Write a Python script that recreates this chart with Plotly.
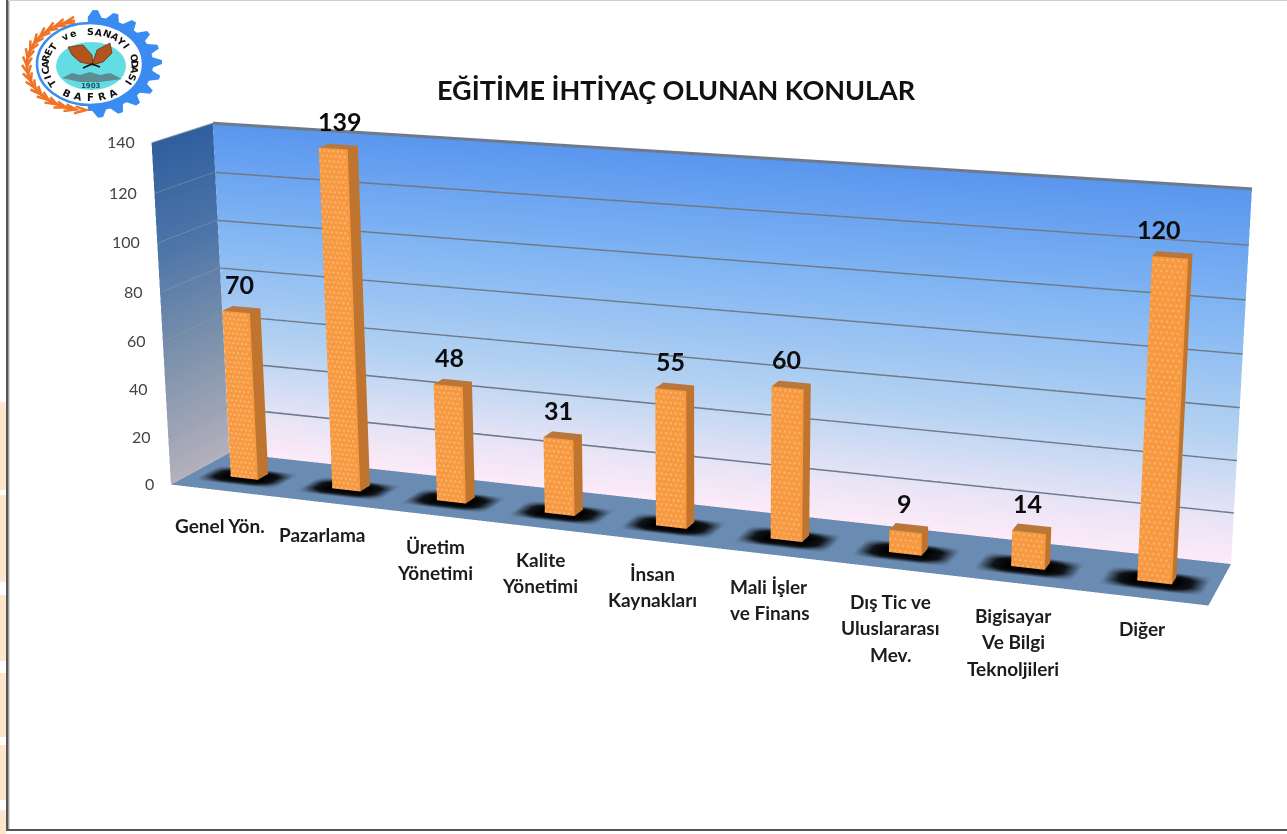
import math
import numpy as np
import plotly.graph_objects as go

W, H = 1287, 834
# The reference has a long-lens perspective (Plotly's fov is fixed), so the canvas is taller than the window.
FIG_H = 2254
TOP = -710

# ---------- data
categories = ["Genel Yön.", "Pazarlama", "Üretim<br>Yönetimi", "Kalite<br>Yönetimi", "İnsan<br>Kaynakları",
              "Mali İşler<br>ve Finans", "Dış Tic ve<br>Uluslararası<br>Mev.",
              "Bigisayar<br>Ve Bilgi<br>Teknoljileri", "Diğer"]
values = [70, 139, 48, 31, 55, 60, 9, 14, 120]
z_ticks = [0, 20, 40, 60, 80, 100, 120, 140]
title_text = "EĞİTİME İHTİYAÇ OLUNAN KONULAR"

# ---------- label pixel positions (layout)
cat_x = [220, 323, 435, 540, 652, 769, 890, 1013, 1142]
cat_y = [525, 534, 546, 559, 573, 586, 601, 615, 628]
value_dx = [-2, 2, -3, -4, -4, -5, -4, -4, -13]
LINE_H = 26.5

BAR_OFF = 0.52
BAR_HALF = 0.135
BY0, BY1 = 0.36, 0.54
FLAT = dict(ambient=1, diffuse=0, specular=0, fresnel=0, roughness=1)
FLOOR = "#6a8bb2"

def X(px): return px / W
def Y(py): return 1 - (py - TOP) / FIG_H

fig = go.Figure()

# back wall
fig.add_trace(go.Mesh3d(x=[0, 9, 9, 0], y=[1, 1, 1, 1], z=[0, 0, 140, 140], i=[0, 0], j=[1, 2], k=[2, 3],
                        intensity=[0, 0, 140, 140], cmin=0, cmax=140, showscale=False,
                        colorscale=[[0, "#fdeaf8"], [0.12, "#e8e4f6"], [0.35, "#b4d2f2"], [0.7, "#7fb4f3"], [1, "#5a96ee"]],
                        lighting=FLAT, hoverinfo="skip"))
# left wall
fig.add_trace(go.Mesh3d(x=[0, 0, 0, 0], y=[0, 1, 1, 0], z=[0, 0, 140, 140], i=[0, 0], j=[1, 2], k=[2, 3],
                        intensity=[0, 0, 140, 140], cmin=0, cmax=140, showscale=False,
                        colorscale=[[0, "#b4b0bc"], [0.35, "#7f93ac"], [0.7, "#4c74a8"], [1, "#2f5f9e"]],
                        lighting=FLAT, hoverinfo="skip"))
# floor
fig.add_trace(go.Mesh3d(x=[0, 9, 9, 0], y=[0, 0, 1, 1], z=[0, 0, 0, 0], i=[0, 0], j=[1, 2], k=[2, 3],
                        color=FLOOR, lighting=FLAT, hoverinfo="skip"))

# grid lines
for t in z_ticks[1:]:
    fig.add_trace(go.Scatter3d(x=[0, 9], y=[1, 1], z=[t, t], mode="lines",
                               line=dict(color="#6f7a88", width=6), hoverinfo="skip"))
    fig.add_trace(go.Scatter3d(x=[0, 0], y=[0, 1], z=[t, t], mode="lines",
                               line=dict(color="#8f9aa8", width=2), hoverinfo="skip"))

# soft shadows under the bars
nx, ny = 25, 13
for idx in range(len(values)):
    cx = idx + BAR_OFF
    gx = np.linspace(cx - 0.40, cx + 0.40, nx)
    gy = np.linspace(0.17, 0.63, ny)
    xx, yy = np.meshgrid(gx, gy)
    dx = np.clip((np.abs(xx - cx) - 0.16) / 0.24, 0, 1)
    dy = np.clip((np.abs(yy - 0.40) - 0.08) / 0.15, 0, 1)
    inten = (1 - dx) * (1 - dy)
    ii, jj, kk = [], [], []
    for a in range(ny - 1):
        for b in range(nx - 1):
            p = a * nx + b
            ii += [p, p]; jj += [p + 1, p + nx + 1]; kk += [p + nx + 1, p + nx]
    fig.add_trace(go.Mesh3d(x=xx.ravel(), y=yy.ravel(), z=np.full(xx.size, 0.25), i=ii, j=jj, k=kk,
                            intensity=inten.ravel(), cmin=0, cmax=1, showscale=False,
                            colorscale=[[0, FLOOR], [0.5, "#101418"], [1, "#000000"]],
                            lighting=FLAT, hoverinfo="skip"))

# bars
for idx, v in enumerate(values):
    x0, x1 = idx + BAR_OFF - BAR_HALF, idx + BAR_OFF + BAR_HALF
    vx = [x0, x1, x1, x0, x0, x1, x1, x0]
    vy = [BY0, BY0, BY1, BY1, BY0, BY0, BY1, BY1]
    vz = [0, 0, 0, 0, v, v, v, v]
    # front, right side, top
    fig.add_trace(go.Mesh3d(x=vx, y=vy, z=vz,
                            i=[0, 0, 1, 1, 4, 4], j=[1, 5, 2, 6, 5, 6], k=[5, 4, 6, 5, 6, 7],
                            facecolor=["#f6993f"] * 2 + ["#bf7430"] * 2 + ["#b9783a"] * 2,
                            lighting=FLAT, hoverinfo="skip"))
    # dotted texture of the front face
    dxs, dzs = [], []
    nz = max(int(v / 2.0), 1)
    n = 6
    for r in range(nz):
        for c in range(n):
            xo = x0 + 0.012 + (c + (0.5 if r % 2 else 0)) * (2 * BAR_HALF - 0.02) / n
            if xo < x1:
                dxs.append(xo); dzs.append((r + 0.5) * v / nz)
    fig.add_trace(go.Scatter3d(x=dxs, y=[BY0 - 0.004] * len(dxs), z=dzs, mode="markers",
                               marker=dict(size=1.5, color="#f9b070", line=dict(width=0)), hoverinfo="skip"))

# ---------- scene annotations (read through the axes)
scene_ann = []
for t in z_ticks:
    scene_ann.append(dict(x=0, y=0, z=t, text=str(t), showarrow=False, xanchor="right", yanchor="middle",
                          xshift=-15, yshift=1, font=dict(family="Lato", size=16, color="#444444")))
for idx, v in enumerate(values):
    scene_ann.append(dict(x=idx + BAR_OFF, y=(BY0 + BY1) / 2, z=v, text="<b>%d</b>" % v, showarrow=False,
                          xanchor="center", yanchor="bottom", yshift=8.5, xshift=value_dx[idx],
                          font=dict(family="Lato", size=25, color="#0c0c0c")))

# ---------- paper annotations
ann = []
def text(s, px, py, size=12, color="#111111", bold=False, angle=0, family="Lato"):
    ann.append(dict(x=X(px), y=Y(py), xref="paper", yref="paper", text=("<b>%s</b>" % s) if bold else s,
                    showarrow=False, xanchor="center", yanchor="middle", textangle=angle,
                    font=dict(family=family, size=size, color=color)))

text(title_text, 676, 89, size=27, bold=True)
for name, cx, cy in zip(categories, cat_x, cat_y):
    for ln, part in enumerate(name.split("<br>")):
        text(part, cx, cy + ln * LINE_H, size=19, bold=True, color="#1c1c1c")

# ---------- page decoration and logo as shapes
shapes = []
def rect(x0, y0, x1, y1, fill, line=None, width=0):
    shapes.append(dict(type="rect", xref="paper", yref="paper", x0=X(x0), x1=X(x1), y0=Y(y1), y1=Y(y0),
                       fillcolor=fill, line=dict(color=line or fill, width=width), layer="above"))
def ellipse(cx, cy, rx, ry, fill, line=None, width=0):
    shapes.append(dict(type="circle", xref="paper", yref="paper", x0=X(cx - rx), x1=X(cx + rx), y0=Y(cy + ry),
                       y1=Y(cy - ry), fillcolor=fill, line=dict(color=line or fill, width=width), layer="above"))
def poly(pts, fill=None, line=None, width=0, close=True):
    d = "M " + " L ".join("%.5f,%.5f" % (X(a), Y(b)) for a, b in pts) + (" Z" if close else "")
    shapes.append(dict(type="path", xref="paper", yref="paper", path=d, fillcolor=fill or "rgba(0,0,0,0)",
                       line=dict(color=line or "rgba(0,0,0,0)", width=width), layer="above"))

for y0, y1 in [(402, 490), (495, 582), (595, 661), (673, 737), (745, 800), (810, 834)]:
    rect(0, y0, 6, y1, "#fde6cc")
rect(8.5, 0, 10, 829, "#d8d8d8")
rect(6, 0, 8.5, 831, "#555555")
rect(6, 829, W, 831, "#555555")
rect(8, 0, W, 1, "#cfcfcf")

# logo
LX, LY = 90, 64
gear = []
nteeth = 11
a0, a1 = -math.radians(92), math.radians(92)
steps = nteeth * 4
for k in range(steps + 1):
    t = a0 + (a1 - a0) * k / steps
    tip = k % 4 in (1, 2)
    rx, ry = (72, 54) if tip else (63, 47)
    gear.append((LX + rx * math.cos(t), LY + ry * math.sin(t)))
poly(gear, fill="#3a8cf2")
# wheat: a band with chevron grains
wheat_band = []
for k in range(33):
    t = math.radians(100 + k * 160 / 32)
    wheat_band.append((85 + 58 * math.cos(t), 65 - 45 * math.sin(t)))
poly(wheat_band, line="#ef7426", width=3, close=False)
for k in range(17):
    t = math.radians(100 + k * 160 / 16)
    nt = math.radians(100 + (k + 1.1) * 160 / 16)
    px, py = 85 + 54 * math.cos(t), 65 - 42 * math.sin(t)
    qx, qy = 85 + 63 * math.cos(t), 65 - 49 * math.sin(t)
    mx, my = 85 + 58 * math.cos(nt), 65 - 45 * math.sin(nt)
    poly([(px, py), (mx, my), (qx, qy)], line="#ef7426", width=2.5, close=False)
ellipse(LX, LY, 53, 41, "#ffffff", "#3a8cf2", 2.5)
ellipse(91, 66, 35, 24, "#63dce4")
poly([(62, 78), (72, 73), (80, 75), (90, 72), (100, 75), (110, 73), (122, 79), (100, 82), (80, 82)], fill="#5d8c92")
poly([(68, 47), (83, 45), (92, 55), (93, 65), (80, 62), (72, 55)], fill="#b4531c", line="#5a2a10", width=0.7)
poly([(92, 65), (97, 50), (110, 43), (112, 53), (103, 62)], fill="#b4531c", line="#5a2a10", width=0.7)
poly([(83, 68), (92, 64), (100, 67)], line="#1c1410", width=1.8, close=False)
text("1903", 91, 86, size=7, bold=True, color="#23505a", family="DejaVu Sans")
ring = "TICARET ve SANAYI ODASI"
for n, ch in enumerate(ring):
    phi = math.radians(-122 + 244 * n / (len(ring) - 1))
    text(ch, LX + 45 * math.sin(phi), LY + 1 - 33.5 * math.cos(phi), size=9.5, bold=True, color="#111111",
         angle=math.degrees(phi), family="DejaVu Sans")
for n, ch in enumerate("BAFRA"):
    phi = math.radians(-27 + 13.5 * n)
    text(ch, LX + 50 * math.sin(phi), LY + 34 * math.cos(phi) - 1, size=10, bold=True, color="#111111",
         angle=math.degrees(-phi), family="DejaVu Sans")

fig.update_layout(
    width=W, height=FIG_H, margin=dict(l=0, r=0, t=0, b=0), paper_bgcolor="white", showlegend=False,
    annotations=ann, shapes=shapes,
    scene=dict(domain=dict(x=[0, 1], y=[0, 1]), aspectmode="manual",
               aspectratio=dict(x=1, y=0.114, z=0.33464), bgcolor="rgba(0,0,0,0)",
               dragmode=False,
               camera=dict(eye=dict(x=0.83831, y=-2.23778, z=0.61606),
                           center=dict(x=0.26976, y=-0.77346, z=0.16773),
                           up=dict(x=0.02014, y=-0.03417, z=1.0067)),
               xaxis=dict(visible=False, range=[0, 9]),
               yaxis=dict(visible=False, range=[0, 1]),
               zaxis=dict(visible=False, range=[0, 140]),
               annotations=scene_ann))

post = ("document.documentElement.style.overflow='hidden';document.body.style.overflow='hidden';"
        "document.body.style.margin='0';var g=document.querySelector('.plotly-graph-div');"
        "g.style.position='absolute';g.style.left='0';g.style.top='%dpx';" % TOP)
fig.write_html("out.html", post_script=post, config=dict(displayModeBar=False))
